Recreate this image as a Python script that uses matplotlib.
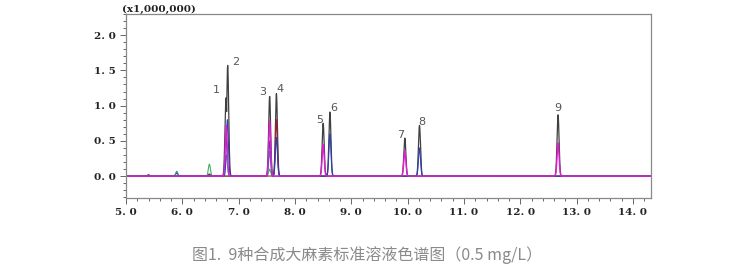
import numpy as np
import matplotlib
matplotlib.use('Agg')
import matplotlib.pyplot as plt
from matplotlib.ticker import MultipleLocator, AutoMinorLocator, FuncFormatter

plt.rcParams['font.family'] = ['Noto Sans CJK SC', 'DejaVu Sans']

# 保留时间 (min) 与峰高 (x1,000,000)，按通道
tic_rt = [5.40, 5.90, 6.48, 6.775, 6.805, 7.55, 7.67, 8.50, 8.62, 9.95, 10.21, 12.67]
tic_h = [0.02, 0.05, 0.03, 1.11, 1.57, 1.13, 1.17, 0.75, 0.91, 0.54, 0.72, 0.87]

magenta_rt = [6.78, 7.55, 8.50, 9.95, 12.67]
magenta_h = [0.72, 0.78, 0.45, 0.36, 0.47]

blue_rt = [6.80, 7.55, 7.67, 8.62, 10.21]
blue_h = [0.80, 0.50, 0.55, 0.60, 0.40]

red_rt = [7.67]
red_h = [0.80]

teal_rt = [5.90, 6.78, 7.55]
teal_h = [0.07, 0.30, 0.35]

green_rt = [6.48, 7.55]
green_h = [0.17, 0.10]

peak_rt = [6.775, 6.805, 7.55, 7.67, 8.50, 8.62, 9.95, 10.21, 12.67]
peak_h = [1.11, 1.57, 1.13, 1.17, 0.75, 0.91, 0.54, 0.72, 0.87]
peak_lbl = ['1', '2', '3', '4', '5', '6', '7', '8', '9']
lbl_dx = [-0.17, 0.15, -0.12, 0.07, -0.07, 0.07, -0.07, 0.05, 0.0]
lbl_dy = [0.11, 0.05, 0.07, 0.07, 0.05, 0.05, 0.05, 0.05, 0.10]

caption = '图1.  9种合成大麻素标准溶液色谱图（0.5 mg/L）'

t = np.linspace(5.0, 14.35, 6000)
SIG = 0.018


def trace(rts, hs):
    y = np.zeros_like(t)
    for rt, h in zip(rts, hs):
        y = np.maximum(y, h * np.exp(-0.5 * ((t - rt) / SIG) ** 2))
    return y


fig = plt.figure(figsize=(7.56, 2.70), dpi=100)
ax = fig.add_axes([126 / 756, 1 - 198 / 270, (651 - 126) / 756, (198 - 14) / 270])

ax.plot(t, trace(tic_rt, tic_h), color='#404040', lw=0.9)
ax.plot(t, trace(green_rt, green_h), color='#40b060', lw=0.8)
ax.plot(t, trace(teal_rt, teal_h), color='#30a0a0', lw=0.8)
ax.plot(t, trace(red_rt, red_h), color='#a02030', lw=0.8)
ax.plot(t, trace(blue_rt, blue_h), color='#3040b0', lw=0.8)
ax.plot(t, trace(magenta_rt, magenta_h), color='#e020d0', lw=1.0)

for rt, h, s, dx, dy in zip(peak_rt, peak_h, peak_lbl, lbl_dx, lbl_dy):
    ax.text(rt + dx, h + dy, s, color='#555555', fontsize=8,
            ha='center', va='center', family='DejaVu Sans')

ax.set_xlim(5.0, 14.32)
ax.set_ylim(-0.31, 2.30)
ax.xaxis.set_major_locator(MultipleLocator(1.0))
ax.xaxis.set_minor_locator(AutoMinorLocator(5))
ax.yaxis.set_major_locator(MultipleLocator(0.5))
ax.yaxis.set_minor_locator(AutoMinorLocator(5))
fmt = FuncFormatter(lambda v, p: ('%.1f' % v).replace('.', '. '))
ax.xaxis.set_major_formatter(fmt)
ax.yaxis.set_major_formatter(fmt)
ax.tick_params(which='both', direction='out', color='#666666', width=0.7)
ax.tick_params(which='major', length=4)
ax.tick_params(which='minor', length=2)
for lab in ax.get_xticklabels() + ax.get_yticklabels():
    lab.set_family('DejaVu Serif')
    lab.set_fontsize(7.5)
    lab.set_fontweight('bold')
    lab.set_color('#222222')
for sp in ax.spines.values():
    sp.set_color('#888888')
    sp.set_linewidth(0.9)

fig.text(122 / 756, 1 - 9 / 270, '(x1,000,000)', fontsize=7.5, family='DejaVu Serif',
         fontweight='bold', color='#222222', va='center', ha='left')
fig.text(367 / 756, 1 - 255 / 270, caption, fontsize=11.5, color='#8a8a8a',
         ha='center', va='center')

fig.savefig('out.png', dpi=100)
